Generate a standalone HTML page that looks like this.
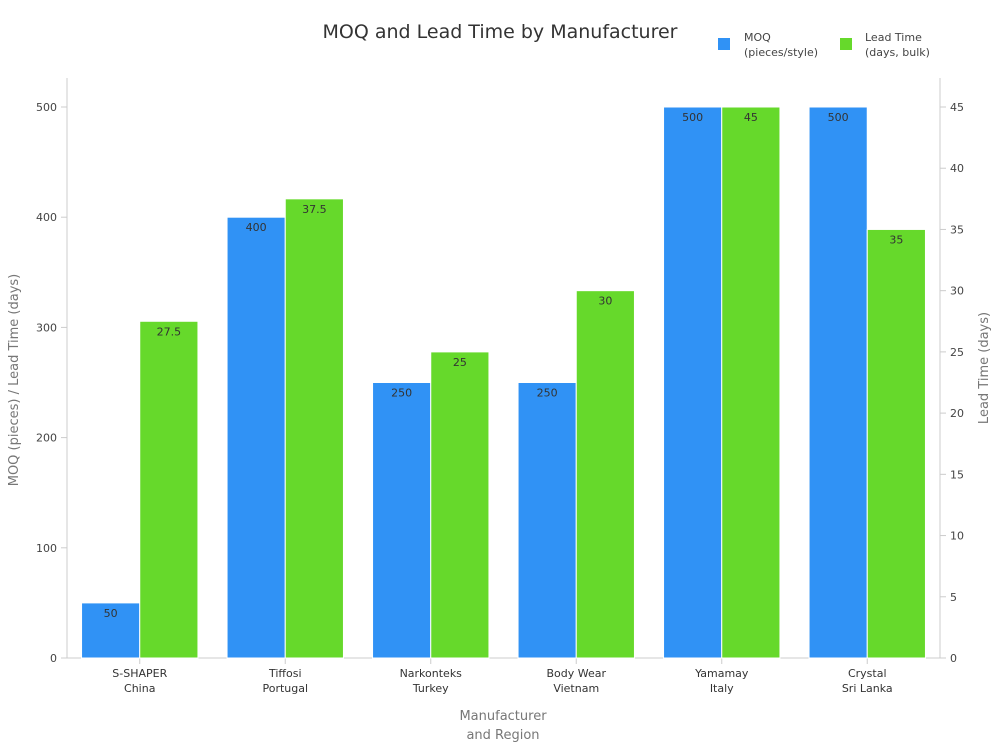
<!DOCTYPE html>
<html><head><meta charset="utf-8"><style>
body{margin:0;background:#fff;font-family:"Liberation Sans","DejaVu Sans",sans-serif;}
svg text{font-family:"DejaVu Sans","Liberation Sans",sans-serif;}
</style></head><body>
<svg id="chart" width="1000" height="750" xmlns="http://www.w3.org/2000/svg">
<rect width="1000" height="750" fill="#fff"/>
<text x="500" y="38" text-anchor="middle" font-size="19" fill="#333">MOQ and Lead Time by Manufacturer</text>
<g>
<rect x="718" y="38" width="12" height="12" fill="#3092f5"/>
<text x="744" y="41" font-size="11" fill="#444"><tspan x="744">MOQ</tspan><tspan x="744" dy="15">(pieces/style)</tspan></text>
<rect x="840" y="38" width="12" height="12" fill="#66d92b"/>
<text x="865" y="41" font-size="11" fill="#444"><tspan x="865">Lead Time</tspan><tspan x="865" dy="15">(days, bulk)</tspan></text>
</g>
<g id="axes"></g>
<g id="bars"></g>
<text transform="translate(18,380) rotate(-90)" text-anchor="middle" font-size="13" fill="#777">MOQ (pieces) / Lead Time (days)</text>
<text transform="translate(988,368) rotate(-90)" text-anchor="middle" font-size="13" fill="#777">Lead Time (days)</text>
<text x="503" y="720" text-anchor="middle" font-size="13" fill="#777"><tspan x="503">Manufacturer</tspan><tspan x="503" dy="19">and Region</tspan></text>
</svg>
<script>
const categories=["S-SHAPER|China","Tiffosi|Portugal","Narkonteks|Turkey","Body Wear|Vietnam","Yamamay|Italy","Crystal|Sri Lanka"];
const moqValues=[50,400,250,250,500,500];
const leadValues=[27.5,37.5,25,30,45,35];
const leftTicks=[0,100,200,300,400,500];
const rightTicks=[0,5,10,15,20,25,30,35,40,45];
const NS="http://www.w3.org/2000/svg";
const X0=67,X1=940,Y0=658,Ytop=107;
const yL=v=>Y0-(v/500)*(Y0-Ytop);
const yR=v=>Y0-(v/45)*(Y0-Ytop);
const band=(X1-X0)/categories.length;
const xc=i=>X0+band*(i+0.5);
function el(t,a,p){const e=document.createElementNS(NS,t);for(const k in a)e.setAttribute(k,a[k]);p.appendChild(e);return e;}
const ax=document.getElementById('axes'),bg=document.getElementById('bars');
let l=el('line',{x1:X0,x2:X0,y1:78,y2:Y0,stroke:'#ccc'},ax);


l=el('line',{x1:X1,x2:X1,y1:78,y2:Y0,stroke:'#ccc'},ax);


l=el('line',{x1:X0,x2:X1,y1:Y0,y2:Y0,stroke:'#ccc'},ax);


leftTicks.forEach(v=>{const y=yL(v);
 el('line',{x1:X0-6,x2:X0,y1:y,y2:y,stroke:'#ccc'},ax);
 const t=el('text',{x:X0-10,y:y+4,'text-anchor':'end','font-size':11,fill:'#444'},ax);t.textContent=v;
 
 });
rightTicks.forEach(v=>{const y=yR(v);
 el('line',{x1:X1,x2:X1+6,y1:y,y2:y,stroke:'#ccc'},ax);
 const t=el('text',{x:X1+10,y:y+4,'font-size':11,fill:'#444'},ax);t.textContent=v;
 
 });
const bw=band*0.4;
categories.forEach((c,i)=>{const cx=xc(i);
 el('line',{x1:cx,x2:cx,y1:Y0,y2:Y0+6,stroke:'#ccc'},ax);
 const p=c.split('|');
 const t=el('text',{x:cx,y:677,'text-anchor':'middle','font-size':11,fill:'#333'},ax);
 
 
 el('tspan',{x:cx},t).textContent=p[0];el('tspan',{x:cx,dy:15},t).textContent=p[1];
 let y=yL(moqValues[i]);
 let r=el('rect',{x:cx-bw,y:y,width:bw,height:Y0-y,fill:'#3092f5',stroke:'#fff','stroke-width':1},bg);
 
 
 let lb=el('text',{x:cx-bw/2,y:y+14,'text-anchor':'middle','font-size':11,fill:'#333'},bg);lb.textContent=moqValues[i];
 
 
 y=yR(leadValues[i]);
 r=el('rect',{x:cx,y:y,width:bw,height:Y0-y,fill:'#66d92b',stroke:'#fff','stroke-width':1},bg);
 
 
 lb=el('text',{x:cx+bw/2,y:y+14,'text-anchor':'middle','font-size':11,fill:'#333'},bg);lb.textContent=leadValues[i];
 
 
});
</script>
</body></html>
